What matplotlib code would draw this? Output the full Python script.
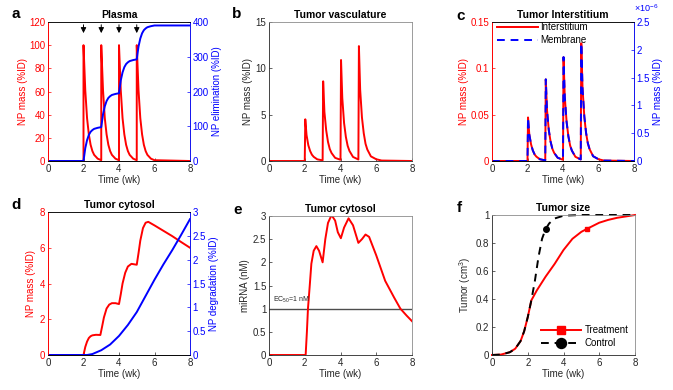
import matplotlib
matplotlib.use('Agg')
import matplotlib.pyplot as plt

plt.rcParams['font.family'] = ['Liberation Sans', 'DejaVu Sans']
plt.rcParams['font.size'] = 7
plt.rcParams['axes.linewidth'] = 0.6
plt.rcParams['mathtext.fontset'] = 'custom'
plt.rcParams['mathtext.rm'] = 'Liberation Sans'

RED = '#ff0000'
BLUE = '#0000ff'
GRAY = '#262626'

# ---- a: plasma ----
t_plasma = [0, 2.0,
            2.0, 2.1, 2.2, 2.3, 2.4, 2.5, 2.6, 2.8, 3.0,
            3.0, 3.1, 3.2, 3.3, 3.4, 3.5, 3.6, 3.8, 4.0,
            4.0, 4.1, 4.2, 4.3, 4.4, 4.5, 4.6, 4.8, 5.0,
            5.0, 5.1, 5.2, 5.3, 5.4, 5.5, 5.6, 5.8, 6.0,
            8.0]
np_plasma = [0, 0,
             100, 61, 37, 23, 14, 8.6, 5.3, 2.0, 0.7,
             100, 61, 37, 23, 14, 8.6, 5.3, 2.0, 0.7,
             100, 61, 37, 23, 14, 8.6, 5.3, 2.0, 0.7,
             100, 61, 37, 23, 14, 8.6, 5.3, 2.0, 0.7,
             0]
t_elim = [0, 2.0,
          2.1, 2.2, 2.3, 2.4, 2.5, 2.6, 2.8, 3.0,
          3.1, 3.2, 3.3, 3.4, 3.5, 3.6, 3.8, 4.0,
          4.1, 4.2, 4.3, 4.4, 4.5, 4.6, 4.8, 5.0,
          5.1, 5.2, 5.3, 5.4, 5.5, 5.6, 5.8, 6.0,
          8.0]
np_elim = [0, 0,
           37, 60, 75, 84, 89, 92.5, 95.5, 97.5,
           134.5, 157.5, 172.5, 181.5, 186.5, 190, 193, 195,
           232, 255, 270, 279, 284, 287.5, 290.5, 292.5,
           329.5, 352.5, 367.5, 376.5, 381.5, 385, 388, 390,
           390]
doses = [2, 3, 4, 5]

# ---- b / c: vasculature, interstitium, membrane ----
t_tumor = [0, 2.0,
           2.03, 2.1, 2.2, 2.3, 2.4, 2.5, 2.7, 3.0,
           3.03, 3.1, 3.2, 3.3, 3.4, 3.5, 3.7, 4.0,
           4.03, 4.1, 4.2, 4.3, 4.4, 4.5, 4.7, 5.0,
           5.03, 5.1, 5.2, 5.3, 5.4, 5.5, 5.7, 6.0,
           6.3, 8.0]
np_vasc = [0, 0,
           4.5, 2.8, 1.7, 1.08, 0.68, 0.45, 0.18, 0.07,
           8.6, 5.3, 3.3, 2.06, 1.29, 0.86, 0.34, 0.13,
           10.9, 6.8, 4.1, 2.6, 1.64, 1.09, 0.44, 0.16,
           12.4, 7.7, 4.7, 3.0, 1.86, 1.24, 0.5, 0.19,
           0.05, 0]
np_inter = [0, 0,
            0.047, 0.029, 0.018, 0.0113, 0.0071, 0.0047, 0.0019, 0.0007,
            0.088, 0.055, 0.033, 0.021, 0.0132, 0.0088, 0.0035, 0.0013,
            0.112, 0.069, 0.043, 0.027, 0.0168, 0.0112, 0.0045, 0.0017,
            0.127, 0.079, 0.048, 0.030, 0.019, 0.0127, 0.0051, 0.0019,
            0.0005, 0]
np_membr = [0, 0,
            0.78e-6, 0.48e-6, 0.30e-6, 0.19e-6, 0.12e-6, 0.078e-6, 0.031e-6, 0.012e-6,
            1.47e-6, 0.91e-6, 0.56e-6, 0.35e-6, 0.22e-6, 0.147e-6, 0.059e-6, 0.022e-6,
            1.87e-6, 1.16e-6, 0.71e-6, 0.45e-6, 0.28e-6, 0.187e-6, 0.075e-6, 0.028e-6,
            2.12e-6, 1.31e-6, 0.81e-6, 0.51e-6, 0.32e-6, 0.21e-6, 0.085e-6, 0.032e-6,
            0.008e-6, 0]

# ---- d: cytosol ----
t_cyto = [0, 2.0, 2.1, 2.2, 2.3, 2.4, 2.5, 2.7, 2.95, 3.05, 3.15, 3.3, 3.45, 3.6, 3.8, 4.0,
          4.1, 4.2, 4.35, 4.5, 4.7, 5.0, 5.1, 5.2, 5.35, 5.5, 5.65, 6.0, 6.5, 7.0, 7.5, 8.0]
np_cyto = [0, 0, 0.45, 0.75, 0.95, 1.05, 1.1, 1.13, 1.12, 1.6, 2.1, 2.6, 2.82, 2.9, 2.9, 2.85,
           3.4, 4.0, 4.6, 4.95, 5.1, 5.05, 5.7, 6.4, 7.1, 7.4, 7.45, 7.25, 6.95, 6.65, 6.32, 6.0]
t_degr = [0, 2.2, 2.5, 3.0, 3.5, 4.0, 4.5, 5.0, 5.5, 6.0, 6.5, 7.0, 7.5, 8.0]
np_degr = [0, 0, 0.02, 0.1, 0.22, 0.4, 0.63, 0.9, 1.24, 1.58, 1.9, 2.2, 2.52, 2.85]

# ---- e: miRNA ----
t_mirna = [0, 2.05, 2.12, 2.18, 2.28, 2.37, 2.5, 2.65, 2.8, 3.0, 3.15, 3.3, 3.5, 3.7, 3.85, 4.02,
           4.2, 4.45, 4.7, 5.0, 5.2, 5.4, 5.6, 6.0, 6.5, 7.0, 7.35, 7.7, 8.0]
mirna = [0, 0, 0.5, 1.0, 1.5, 1.97, 2.25, 2.35, 2.25, 2.0, 2.5, 2.85, 3.02, 2.9, 2.65, 2.52,
         2.75, 2.95, 2.8, 2.42, 2.5, 2.6, 2.55, 2.15, 1.6, 1.24, 1.0, 0.85, 0.73]
ec50 = 1.0

# ---- f: tumor size ----
t_treat = [0, 0.5, 1.0, 1.3, 1.6, 1.8, 2.0, 2.2, 2.5, 3.0, 3.5, 4.0, 4.5, 5.0, 5.3, 6.0, 6.5, 7.0, 7.5, 8.0]
size_treat = [0, 0.003, 0.02, 0.045, 0.1, 0.17, 0.27, 0.39, 0.46, 0.56, 0.65, 0.75, 0.83, 0.88, 0.9,
              0.945, 0.965, 0.98, 0.99, 1.0]
t_ctrl = [0, 0.5, 1.0, 1.3, 1.6, 1.8, 2.0, 2.2, 2.4, 2.6, 2.8, 3.0, 3.2, 3.5, 4.0, 5.0, 8.0]
size_ctrl = [0, 0.003, 0.02, 0.045, 0.1, 0.17, 0.27, 0.39, 0.53, 0.7, 0.83, 0.9, 0.94, 0.975, 0.995, 1.0, 1.0]

W, H = 673, 390
fig = plt.figure(figsize=(W / 100, H / 100), dpi=100)


def pax(x0, y0, x1, y1):
    return fig.add_axes([x0 / W, 1 - y1 / H, (x1 - x0) / W, (y1 - y0) / H])


def style(ax, title):
    ax.set_xlim(0, 8)
    ax.set_xticks([0, 2, 4, 6, 8])
    ax.tick_params(direction='in', length=2.5, width=0.5, colors=GRAY, pad=2)
    for s in ax.spines.values():
        s.set_color('0.55')
    ax.spines['bottom'].set_color(GRAY)
    ax.set_xlabel('Time (wk)', color=GRAY, labelpad=1)
    ax.set_title(title, fontweight='bold', fontsize=7.5, pad=3)


def color_y(ax, c, side):
    ax.tick_params(axis='y', colors=c)
    ax.spines[side].set_color(c)
    ax.yaxis.label.set_color(c)


def letter(x, y, s):
    fig.text(x / W, 1 - y / H, s, fontsize=11, fontweight='bold', ha='center', va='center')


# a
ax = pax(48, 22, 190, 161)
style(ax, 'Plasma')
ax.plot(t_plasma, np_plasma, color=RED, lw=1.4)
ax.set_ylim(0, 120)
ax.set_ylabel('NP mass (%ID)', labelpad=1)
color_y(ax, RED, 'left')
for d in doses:
    ax.annotate('', xy=(d, 108), xytext=(d, 120),
                arrowprops=dict(arrowstyle='-|>', color='k', lw=0.7, mutation_scale=8))
ax2 = ax.twinx()
ax2.plot(t_elim, np_elim, color=BLUE, lw=1.4)
ax2.set_ylim(0, 400)
ax2.set_yticks([0, 100, 200, 300, 400])
ax2.tick_params(direction='in', length=2.5, width=0.5, pad=2)
ax2.set_ylabel('NP elimination (%ID)', labelpad=2)
color_y(ax2, BLUE, 'right')
ax2.spines['left'].set_color(RED)
letter(16, 14, 'a')

# b
ax = pax(269, 22, 412, 161)
style(ax, 'Tumor vasculature')
ax.plot(t_tumor, np_vasc, color=RED, lw=1.4)
ax.set_ylim(0, 15)
ax.set_yticks([0, 5, 10, 15])
ax.set_ylabel('NP mass (%ID)', color=GRAY, labelpad=2)
ax.spines['left'].set_color(GRAY)
letter(237, 14, 'b')

# c
ax = pax(492, 22, 634, 161)
style(ax, 'Tumor Interstitium')
l1, = ax.plot(t_tumor, np_inter, color=RED, lw=1.4, label='Interstitium')
ax.set_ylim(0, 0.15)
ax.set_yticks([0, 0.05, 0.1, 0.15])
ax.set_yticklabels(['0', '0.05', '0.1', '0.15'])
ax.set_ylabel('NP mass (%ID)', labelpad=1)
color_y(ax, RED, 'left')
ax2 = ax.twinx()
l2, = ax2.plot(t_tumor, np_membr, color=BLUE, lw=1.4, ls=(0, (4, 3)), label='Membrane')
ax2.set_ylim(0, 2.5e-6)
ax2.set_yticks([0, 0.5e-6, 1e-6, 1.5e-6, 2e-6, 2.5e-6])
ax2.set_yticklabels(['0', '0.5', '1', '1.5', '2', '2.5'])
ax2.tick_params(direction='in', length=2.5, width=0.5, pad=2)
ax2.set_ylabel('NP mass (%ID)', labelpad=2)
color_y(ax2, BLUE, 'right')
ax2.spines['left'].set_color(RED)
ax2.text(1.0, 1.055, r'$\times10^{-6}$', transform=ax2.transAxes, color=BLUE, fontsize=6.5,
         ha='left', va='bottom')
ax.legend([l1, l2], ['Interstitium', 'Membrane'], loc='upper left', frameon=False,
          handlelength=4.2, borderaxespad=0.1, labelspacing=0.35, handletextpad=0.3,
          bbox_to_anchor=(0.0, 1.035))
letter(461, 16, 'c')

# d
ax = pax(48, 212, 190, 355)
style(ax, 'Tumor cytosol')
ax.plot(t_cyto, np_cyto, color=RED, lw=1.4)
ax.set_ylim(0, 8)
ax.set_yticks([0, 2, 4, 6, 8])
ax.set_ylabel('NP mass (%ID)', labelpad=3)
color_y(ax, RED, 'left')
ax2 = ax.twinx()
ax2.plot(t_degr, np_degr, color=BLUE, lw=1.4)
ax2.set_ylim(0, 3)
ax2.set_yticks([0, 0.5, 1, 1.5, 2, 2.5, 3])
ax2.set_yticklabels(['0', '0.5', '1', '1.5', '2', '2.5', '3'])
ax2.tick_params(direction='in', length=2.5, width=0.5, pad=2)
ax2.set_ylabel('NP degradation (%ID)', labelpad=2)
color_y(ax2, BLUE, 'right')
ax2.spines['left'].set_color(RED)
letter(16, 205, 'd')

# e
ax = pax(269, 216, 412, 355)
style(ax, 'Tumor cytosol')
ax.axhline(ec50, color='0.3', lw=1.0)
ax.plot(t_mirna, mirna, color=RED, lw=1.4)
ax.set_ylim(0, 3)
ax.set_yticks([0, 0.5, 1, 1.5, 2, 2.5, 3])
ax.set_yticklabels(['0', '0.5', '1', '1.5', '2', '2.5', '3'])
ax.set_ylabel('miRNA (nM)', color=GRAY, labelpad=2)
ax.spines['left'].set_color(GRAY)
ax.text(0.25, ec50 + 0.07, r'EC$_{50}$=1 nM', fontsize=5, color=GRAY, va='bottom')
letter(238, 210, 'e')

# f
ax = pax(492, 215, 635, 355)
style(ax, 'Tumor size')
ax.plot(t_treat, size_treat, color=RED, lw=1.4, marker='s', ms=3.5,
        markevery=[t_treat.index(5.3)], label='Treatment', clip_on=False)
ax.plot(t_ctrl, size_ctrl, color='k', lw=1.4, ls=(0, (4, 3)), marker='o', ms=4,
        markevery=[t_ctrl.index(3.0)], label='Control', clip_on=False)
ax.set_ylim(0, 1)
ax.set_yticks([0, 0.2, 0.4, 0.6, 0.8, 1])
ax.set_yticklabels(['0', '0.2', '0.4', '0.6', '0.8', '1'])
ax.set_ylabel('Tumor (cm$^3$)', color=GRAY, labelpad=2)
ax.spines['left'].set_color(GRAY)
ax.legend(loc='lower right', frameon=False, handlelength=4.2, markerscale=1.8,
          labelspacing=0.3, handletextpad=0.3, borderaxespad=0.3)
letter(459, 208, 'f')

fig.savefig('out.png', dpi=100)
